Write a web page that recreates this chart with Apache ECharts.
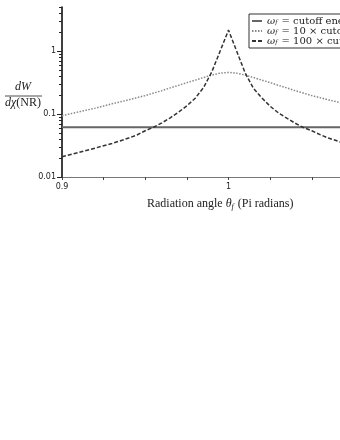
<!DOCTYPE html>
<html>
<head>
<meta charset="utf-8">
<script src="https://cdn.jsdelivr.net/npm/echarts@6/dist/echarts.min.js"></script>
<style>
  html, body { margin: 0; padding: 0; background: #fff; }
  #chart { width: 340px; height: 440px; }
</style>
</head>
<body>
<div id="chart"></div>
<script>
// radiation angle (Pi radians)
var angles = [0.90, 0.91, 0.92, 0.93, 0.94, 0.945, 0.95, 0.955, 0.96, 0.965, 0.97, 0.975, 0.98, 0.985, 0.99, 0.995, 1.00,
  1.005, 1.01, 1.015, 1.02, 1.025, 1.03, 1.035, 1.04, 1.045, 1.05, 1.055, 1.06, 1.07, 1.08, 1.09, 1.10];
var cutoffValues = [0.0615, 0.0615, 0.0615, 0.0615, 0.0615, 0.0615, 0.0615, 0.0615, 0.0615, 0.0615, 0.0615, 0.0615, 0.0615, 0.0615, 0.0615, 0.0615, 0.0615,
  0.0615, 0.0615, 0.0615, 0.0615, 0.0615, 0.0615, 0.0615, 0.0615, 0.0615, 0.0615, 0.0615, 0.0615, 0.0615, 0.0615, 0.0615, 0.0615];
var tenValues = [0.094, 0.108, 0.124, 0.145, 0.168, 0.182, 0.196, 0.215, 0.235, 0.26, 0.285, 0.315, 0.345, 0.38, 0.415, 0.445, 0.458,
  0.445, 0.415, 0.38, 0.345, 0.315, 0.285, 0.26, 0.235, 0.215, 0.196, 0.182, 0.168, 0.145, 0.124, 0.108, 0.094];
var hundredValues = [0.021, 0.0245, 0.0288, 0.0340, 0.0415, 0.0465, 0.0543, 0.0617, 0.0724, 0.087, 0.107, 0.135, 0.178, 0.263, 0.468, 1.0, 2.15,
  0.98, 0.45, 0.255, 0.18, 0.133, 0.104, 0.086, 0.0715, 0.061, 0.0543, 0.047, 0.0415, 0.034, 0.0288, 0.0245, 0.021];
var legendNames = ['cutoff energy', '10 × cutoff', '100 × cutoff'];
var yMajorTicks = [0.01, 0.1, 1];
var yMinorTicks = [0.02, 0.03, 0.04, 0.05, 0.06, 0.07, 0.08, 0.09, 0.2, 0.3, 0.4, 0.5, 0.6, 0.7, 0.8, 0.9, 2, 3, 4, 5];
var xLabels = [0.9, 1, 1.1];

function pairs (ys) {
  return angles.map(function (a, i) { return [a, ys[i]]; });
}

var serif = '"Liberation Serif", "DejaVu Serif", serif';
var wideSerif = '"DejaVu Serif", serif';
var myChart = echarts.init(document.getElementById('chart'));

myChart.setOption({
  animation: false,
  grid: {
    left: 62, top: 7, width: 333, height: 170,
    outerBoundsMode: 'none'
  },
  legend: {
    orient: 'vertical',
    left: 249, top: 14,
    padding: [2, 4, 2, 2],
    itemGap: 0,
    itemWidth: 10,
    itemHeight: 9.5,
    borderColor: '#333',
    borderWidth: 1,
    itemStyle: { opacity: 0 },
    formatter: function (name) {
      return '{i|ω}{s|f}{t| = ' + name + '}';
    },
    textStyle: {
      fontFamily: wideSerif,
      fontSize: 10,
      lineHeight: 9.5,
      color: '#222',
      rich: {
        i: { fontFamily: wideSerif, fontStyle: 'italic', fontSize: 10, lineHeight: 9.5, color: '#222' },
        s: { fontFamily: wideSerif, fontStyle: 'italic', fontSize: 6, lineHeight: 6, color: '#222', padding: [3.5, 1, 0, 0] },
        t: { fontFamily: wideSerif, fontSize: 10, lineHeight: 9.5, color: '#222' }
      }
    },
    data: legendNames
  },
  xAxis: {
    type: 'value',
    min: 0.9,
    max: 1.1,
    interval: 0.025,
    splitLine: { show: false },
    axisLine: { lineStyle: { color: '#777', width: 1 } },
    axisTick: { length: 3, lineStyle: { color: '#444' } },
    axisLabel: {
      customValues: xLabels,
      fontSize: 8,
      color: '#222',
      margin: 6,
      fontFamily: '"DejaVu Sans", sans-serif'
    }
  },
  yAxis: [{
    type: 'log',
    min: 0.01,
    max: 5,
    splitLine: { show: false },
    axisLine: { show: true, lineStyle: { color: '#000', width: 1.5 } },
    axisTick: { length: 5, customValues: yMajorTicks, lineStyle: { color: '#222' } },
    axisLabel: {
      customValues: yMajorTicks,
      fontSize: 8,
      color: '#222',
      margin: 6,
      fontFamily: '"DejaVu Sans", sans-serif',
      formatter: function (v) { return String(v); }
    }
  }, {
    type: 'log',
    min: 0.01,
    max: 5,
    position: 'left',
    splitLine: { show: false },
    axisLine: { show: false },
    axisTick: { length: 3, customValues: yMinorTicks, lineStyle: { color: '#222' } },
    axisLabel: { show: false }
  }],
  series: [{
    name: legendNames[0],
    type: 'line',
    symbol: 'none',
    data: pairs(cutoffValues),
    lineStyle: { color: '#666', width: 2, type: 'solid' },
    itemStyle: { color: '#666' }
  }, {
    name: legendNames[1],
    type: 'line',
    symbol: 'none',
    data: pairs(tenValues),
    lineStyle: { color: '#888', width: 1.5, type: [1.5, 1.5] },
    itemStyle: { color: '#888' }
  }, {
    name: legendNames[2],
    type: 'line',
    symbol: 'none',
    data: pairs(hundredValues),
    lineStyle: { color: '#333', width: 1.5, type: [4, 2] },
    itemStyle: { color: '#333' }
  }],
  graphic: [{
    type: 'text',
    left: 15, top: 81,
    style: { text: 'dW', font: 'italic 12px ' + serif, fill: '#222' }
  }, {
    type: 'line',
    shape: { x1: 5, y1: 96, x2: 42, y2: 96 },
    style: { stroke: '#222', lineWidth: 0.8 }
  }, {
    type: 'text',
    left: 5, top: 97,
    style: {
      text: '{i|dχ}(NR)',
      font: '12px ' + serif,
      fill: '#222',
      rich: { i: { fontFamily: serif, fontStyle: 'italic', fontSize: 12, fill: '#222' } }
    }
  }, {
    type: 'text',
    left: 147, top: 198,
    style: {
      text: 'Radiation angle {i|θ}{s|f} (Pi radians)',
      font: '12px ' + serif,
      fill: '#222',
      rich: {
        i: { fontFamily: serif, fontStyle: 'italic', fontSize: 12, fill: '#222' },
        s: { fontFamily: serif, fontStyle: 'italic', fontSize: 8, fill: '#222', padding: [5, 1, 0, 0] }
      }
    }
  }]
});
</script>
</body>
</html>
